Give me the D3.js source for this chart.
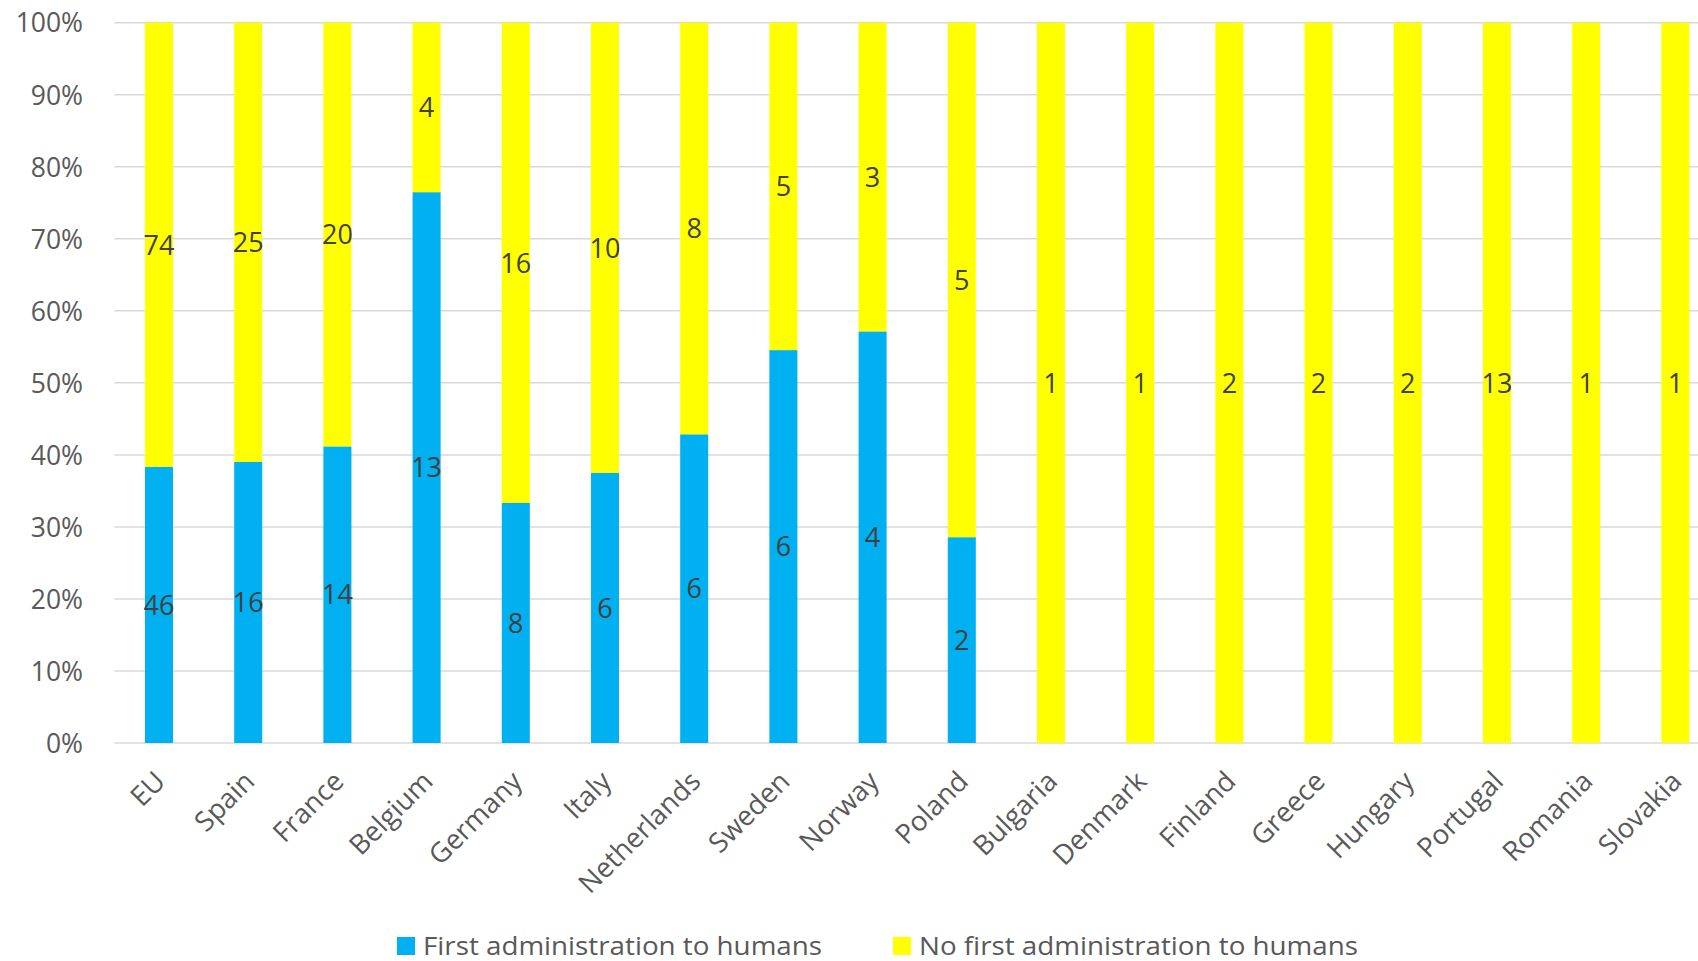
<!DOCTYPE html>
<html><head><meta charset="utf-8">
<script src="https://cdn.jsdelivr.net/npm/d3@7"></script>
<style>body{margin:0;background:#fff;overflow:hidden}</style>
</head><body>
<svg id="c" width="1698" height="961"></svg>
<script>
const categories = ["EU","Spain","France","Belgium","Germany","Italy","Netherlands","Sweden","Norway","Poland","Bulgaria","Denmark","Finland","Greece","Hungary","Portugal","Romania","Slovakia"];
const firstAdmin = [46,16,14,13,8,6,6,6,4,2,0,0,0,0,0,0,0,0];
const noFirstAdmin = [74,25,20,4,16,10,8,5,3,5,1,1,2,2,2,13,1,1];
const seriesNames = ["First administration to humans","No first administration to humans"];
const yTicks = [0,0.1,0.2,0.3,0.4,0.5,0.6,0.7,0.8,0.9,1];
const colors = ["#00B0F0","#FFFF00"];

const svg = d3.select("#c");
const m = {l:114.4, t:22.7, b:743};
const step = 89.2;
const x = d3.scaleBand().domain(categories).range([m.l, m.l + step*categories.length]).paddingInner(0.686).paddingOuter(0.343);
const y = d3.scaleLinear().domain([0,1]).range([m.b, m.t]);

const rows = categories.map((c,i)=>({cat:c, a:firstAdmin[i], b:noFirstAdmin[i]}));
const stack = d3.stack().keys(["a","b"]).value((d,k)=>d[k]/(d.a+d.b));
const layers = stack(rows);

// gridlines
svg.append("g").selectAll("line").data(yTicks).join("line")
  .attr("x1", m.l).attr("x2", 1698)
  .attr("y1", d=>y(d)).attr("y2", d=>y(d))
  .attr("stroke", "#d9d9d9").attr("stroke-width", 1.5);

// y axis labels
const yAxis = d3.axisLeft(y).tickValues(yTicks).tickFormat(d3.format(".0%")).tickSize(0).tickPadding(0);
const ya = svg.append("g").attr("transform", `translate(83,0)`).call(yAxis);
ya.select(".domain").remove();
ya.selectAll("text").attr("font-family","Open Sans").attr("font-size",26.5).attr("fill","#595959").attr("dy","0.35em");

// bars
svg.append("g").selectAll("g").data(layers).join("g")
  .attr("fill", (d,i)=>colors[i])
  .selectAll("rect").data(d=>d).join("rect")
  .attr("x", d=>x(d.data.cat)).attr("width", x.bandwidth())
  .attr("y", d=>y(d[1])).attr("height", d=>y(d[0])-y(d[1]));

// data labels
layers.forEach((layer,li)=>{
  svg.append("g").selectAll("text").data(layer.filter(d=>d.data[layer.key]>0)).join("text")
    .attr("x", d=>x(d.data.cat)+x.bandwidth()/2)
    .attr("y", d=>y((d[0]+d[1])/2))
    .attr("dy","0.36em")
    .attr("text-anchor","middle")
    .attr("font-family","Open Sans").attr("font-size",27).attr("fill","#404040")
    .text(d=>d.data[layer.key]);
});

// x axis labels
const xAxis = d3.axisBottom(x).tickSize(0).tickPadding(0);
const xa = svg.append("g").attr("transform", `translate(0,${m.b})`).call(xAxis);
xa.select(".domain").remove();
xa.selectAll("text")
  .attr("font-family","Open Sans").attr("font-size",27.5).attr("fill","#595959")
  .attr("text-anchor","end").attr("dy",0).attr("y",0)
  .attr("transform","translate(8,40) rotate(-45)");

// legend
const leg = svg.append("g");
const legX = [397, 893];
const legW = [399, 439];
seriesNames.forEach((n,i)=>{
  leg.append("rect").attr("x",legX[i]).attr("y",937).attr("width",18).attr("height",18).attr("fill",colors[i]);
  leg.append("text").attr("x",legX[i]+26).attr("y",955)
    .attr("font-family","Open Sans").attr("font-size",25).attr("fill","#595959")
    .attr("textLength",legW[i]).attr("lengthAdjust","spacingAndGlyphs").text(n);
});
</script>
</body></html>
